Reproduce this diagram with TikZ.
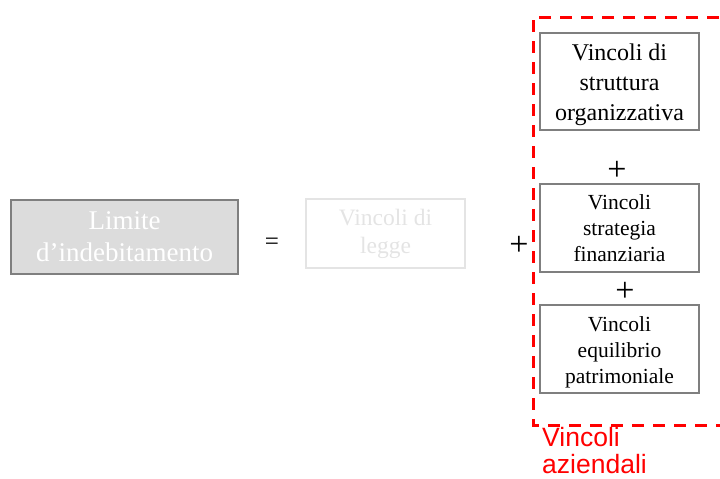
\documentclass[tikz,border=0pt]{standalone}
\usepackage{fontspec}
\setmainfont{Liberation Serif}
\newfontfamily\redsans{Liberation Sans}
\definecolor{boxgray}{HTML}{7F7F7F}
\definecolor{fillgray}{HTML}{DCDCDC}
\definecolor{palegray}{HTML}{E4E4E4}
\definecolor{vred}{HTML}{FF0000}
\begin{document}
\begin{tikzpicture}[x=1pt,y=-1pt,
  cbox/.style={draw=boxgray,line width=1.1pt,inner sep=0pt,align=center,
    minimum width=159pt},
  opsign/.style={inner sep=0pt,font=\fontsize{34}{34}\selectfont}]
\useasboundingbox (0,0) rectangle (720,479);

% left-hand side of the equation
\node[draw=boxgray,fill=fillgray,line width=1.3pt,inner sep=0pt,align=center,
  minimum width=227pt,minimum height=74pt,text=white,
  font=\fontsize{27}{32}\selectfont] (lim) at (124.5,237) {Limite\\d’indebitamento};
\node[font=\fontsize{25}{25}\selectfont,inner sep=0pt] (eq) at (272,244) {=};
\node[draw=palegray,line width=1.1pt,inner sep=0pt,align=center,
  minimum width=159pt,minimum height=69pt,text=palegray,
  font=\fontsize{23.5}{28}\selectfont] (legge) at (385.5,233.5) {Vincoli di\\legge};
\node[opsign] (plusA) at (519,246) {+};

% company constraints
\node[cbox,minimum height=97pt] (b1) at (619.5,81.5) {};
\node[align=center,inner sep=0pt,font=\fontsize{24}{30}\selectfont] (t1)
  at ([yshift=-3pt]b1.center) {Vincoli di\\struttura\\organizzativa};
\node[opsign] (plusB) at (617,171) {+};
\node[cbox,minimum height=88pt,font=\fontsize{21.5}{26}\selectfont] (b2) at (619.5,228)
  {Vincoli\\strategia\\finanziaria};
\node[opsign] (plusC) at (625,292) {+};
\node[cbox,minimum height=88pt] (b3) at (619.5,349) {};
\node[align=center,inner sep=0pt,font=\fontsize{21.5}{26}\selectfont] (t3)
  at ([yshift=-3pt]b3.center) {Vincoli\\equilibrio\\patrimoniale};

% dashed frame around the company constraints
\begin{scope}
\clip (0,0) rectangle (720,479);
\draw[vred,line width=3pt,dash pattern=on 12pt off 9pt] (740,17) -- (533,17) -- (533,425) -- (740,425);
\end{scope}
\node[anchor=north west,inner sep=0pt,align=left,text=vred,
  font=\redsans\fontsize{26.5}{27.5}\selectfont] (lab) at (542,427) {Vincoli\\aziendali};
\end{tikzpicture}
\end{document}
